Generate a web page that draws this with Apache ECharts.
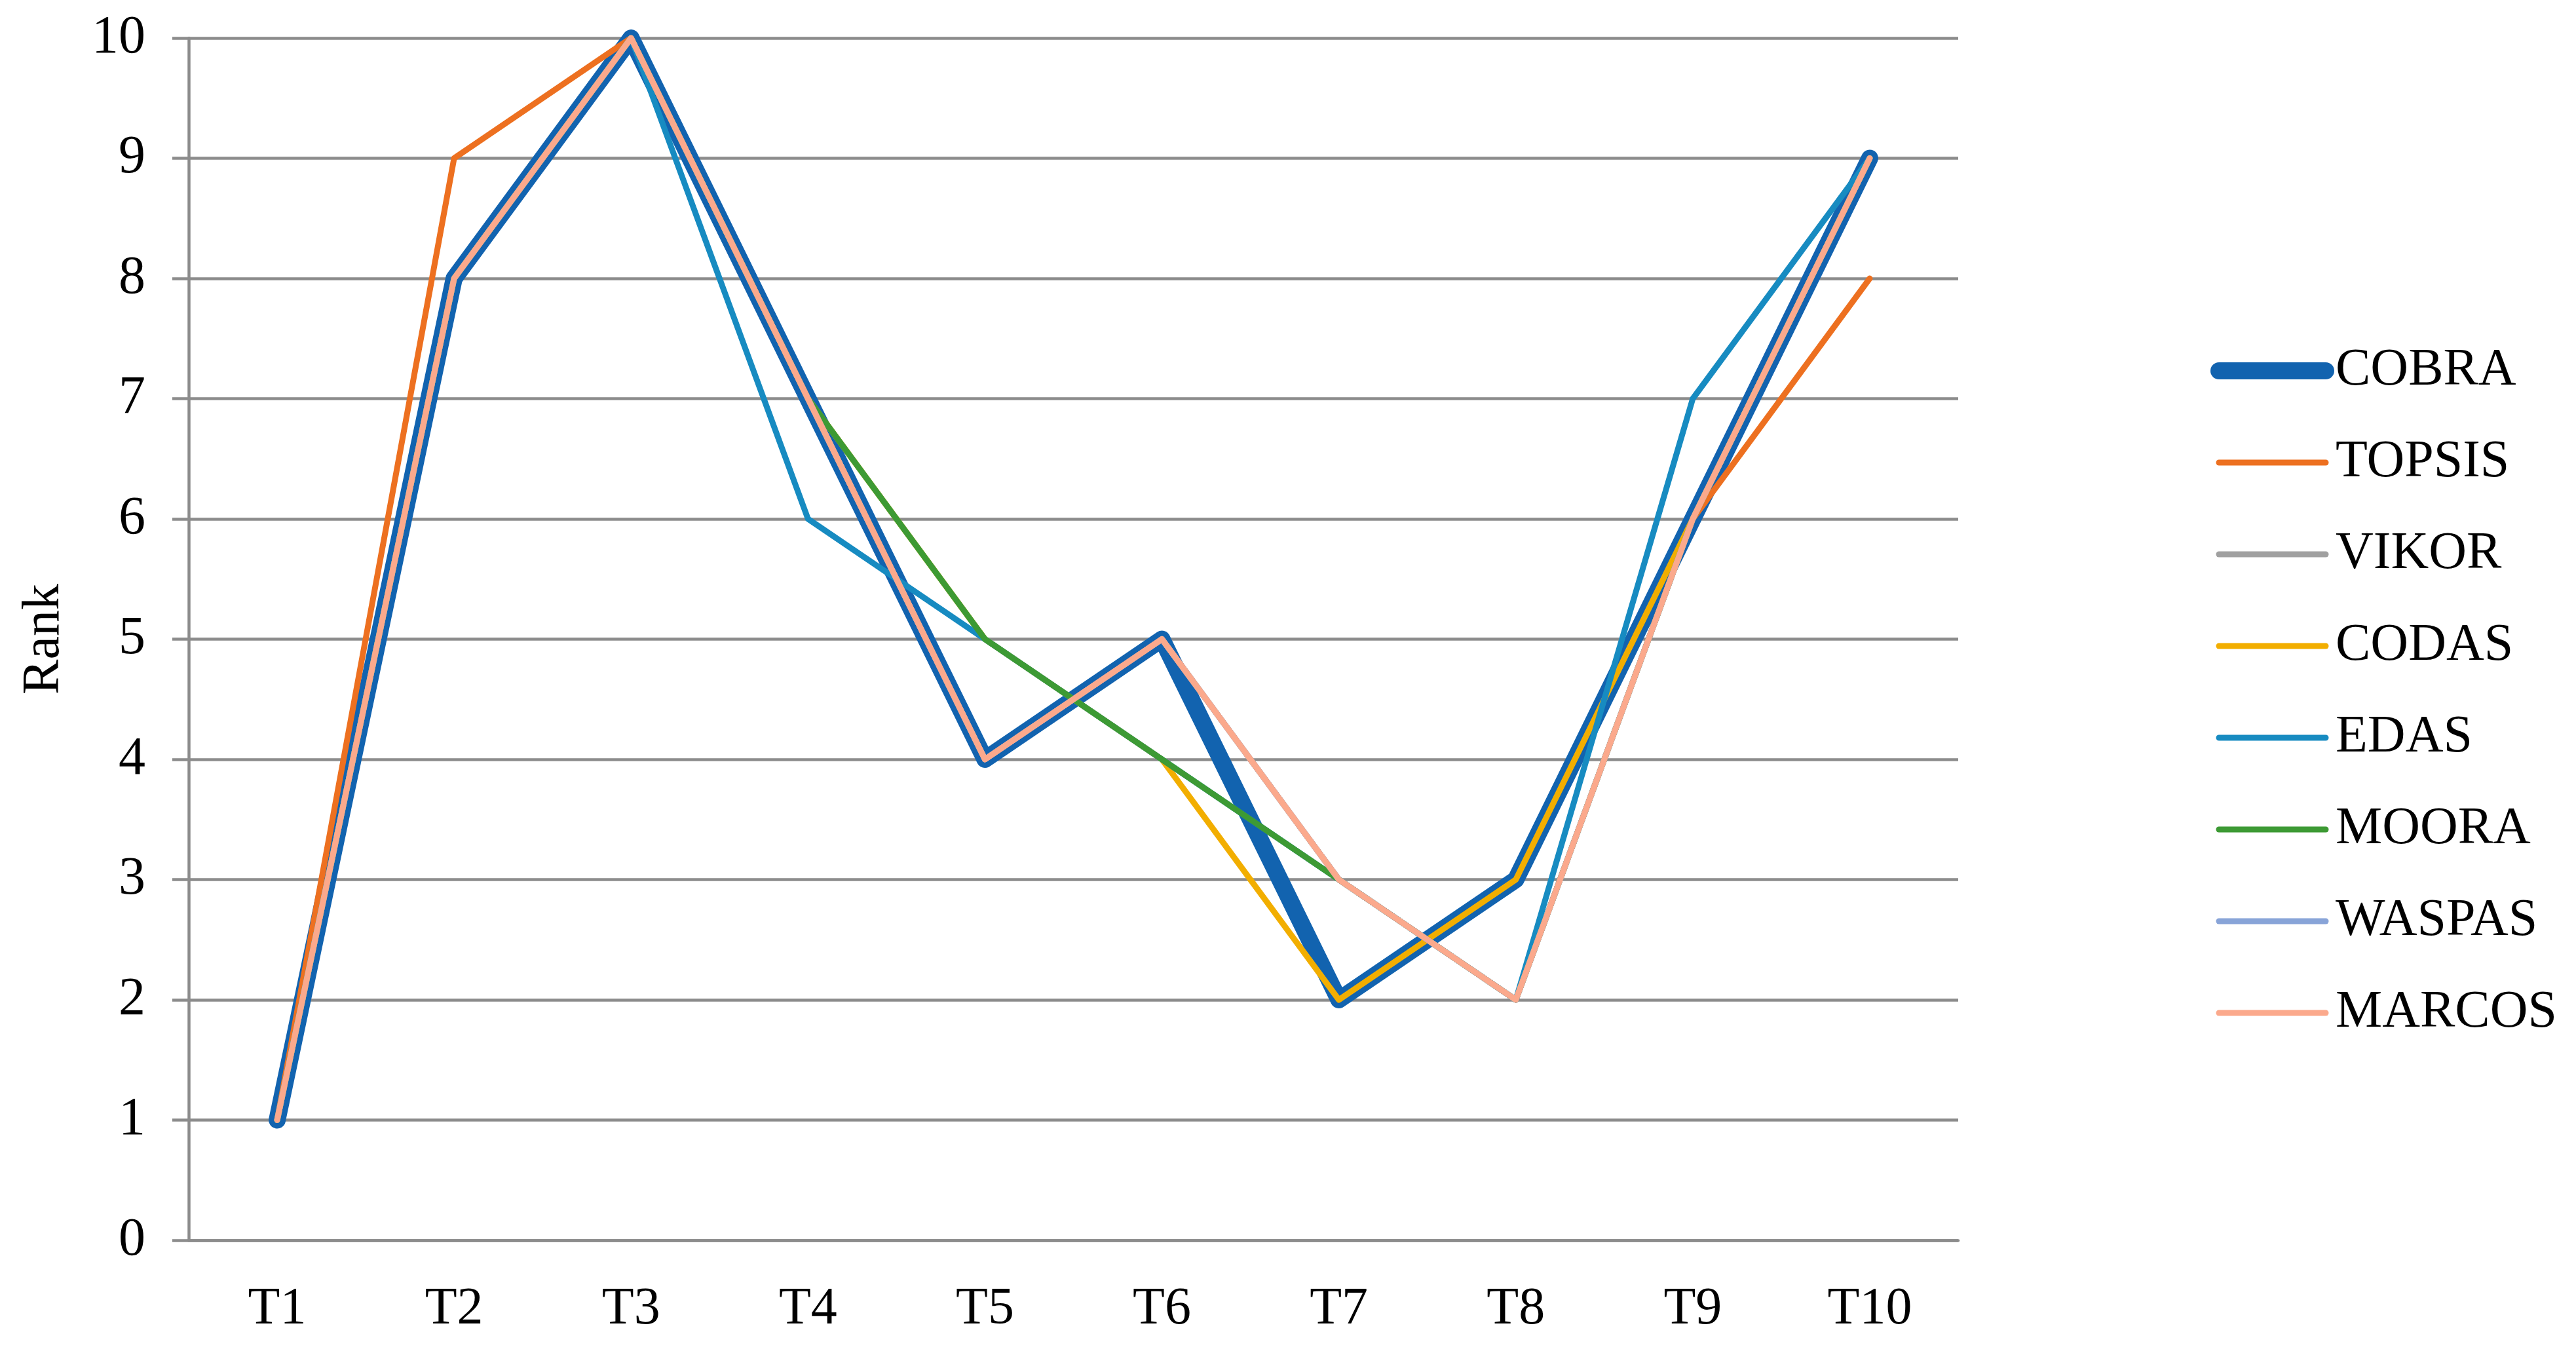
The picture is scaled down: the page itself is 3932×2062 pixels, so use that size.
<!DOCTYPE html>
<html>
<head>
<meta charset="utf-8">
<script src="https://cdn.jsdelivr.net/npm/echarts@6/dist/echarts.min.js"></script>
<style>html,body{margin:0;padding:0;background:#fff;}#c{width:3932px;height:2062px;}</style>
</head>
<body>
<div id="c"></div>
<script>
const categories = ['T1','T2','T3','T4','T5','T6','T7','T8','T9','T10'];
const seriesNames = ['COBRA','TOPSIS','VIKOR','CODAS','EDAS','MOORA','WASPAS','MARCOS'];
const COBRA  = [1,8,10,7,4,5,2,3,6,9];
const TOPSIS = [1,9,10,7,4,5,3,2,6,8];
const VIKOR  = [1,8,10,7,4,5,3,2,6,9];
const CODAS  = [1,8,10,7,5,4,2,3,6,9];
const EDAS   = [1,8,10,6,5,4,3,2,7,9];
const MOORA  = [1,8,10,7,5,4,3,2,6,9];
const WASPAS = [1,8,10,7,4,5,3,2,6,9];
const MARCOS = [1,8,10,7,4,5,3,2,6,9];
const yTicks = [0,1,2,3,4,5,6,7,8,9,10];

const values = [COBRA, TOPSIS, VIKOR, CODAS, EDAS, MOORA, WASPAS, MARCOS];
const colors = ['#1263AF','#ED7020','#A0A0A0','#F2AE00','#178BC1','#3D9A34','#88A4D8','#FBA98C'];
const widths = [26,9,9,9,9,9,9,9];
const FONT = '"Liberation Serif","Times New Roman",serif';

const chart = echarts.init(document.getElementById('c'), null, {renderer:'canvas'});
chart.setOption({
  animation: false,
  backgroundColor: '#ffffff',
  grid: {left: 288, right: 943, top: 58, bottom: 169, containLabel: false},
  legend: {
    orient: 'vertical',
    left: 3374,
    top: 526,
    padding: 0,
    itemWidth: 163,
    itemHeight: 30,
    itemGap: 60,
    lineStyle: {width: 'inherit', cap: 'round'},
    itemStyle: {opacity: 0, borderWidth: 0},
    textStyle: {fontFamily: FONT, fontSize: 80, lineHeight: 80, color: '#000', padding: [0, 0, 0, 10]},
    data: seriesNames,
    selectedMode: false
  },
  xAxis: {
    type: 'category',
    data: categories,
    boundaryGap: true,
    axisLine: {show: true, lineStyle: {color: '#8C8C8C', width: 4.5}},
    axisTick: {show: false},
    axisLabel: {fontFamily: FONT, fontSize: 80, color: '#000', margin: 66},
    splitLine: {show: false}
  },
  yAxis: {
    type: 'value',
    min: yTicks[0],
    max: yTicks[yTicks.length-1],
    interval: 1,
    name: 'Rank',
    nameLocation: 'middle',
    nameRotate: 90,
    nameGap: 180,
    nameTextStyle: {fontFamily: FONT, fontSize: 80, color: '#000'},
    axisLine: {show: true, lineStyle: {color: '#8C8C8C', width: 4.5}},
    axisTick: {show: true, length: 25, lineStyle: {color: '#8C8C8C', width: 4.5}},
    axisLabel: {fontFamily: FONT, fontSize: 82, color: '#000', margin: 66},
    splitLine: {show: true, lineStyle: {color: '#8C8C8C', width: 4.5}}
  },
  series: seriesNames.map((n, i) => ({
    name: n,
    type: 'line',
    data: values[i],
    symbol: 'none',
    smooth: false,
    z: 2 + i,
    color: colors[i],
    lineStyle: {color: colors[i], width: widths[i], cap: 'round', join: 'round'},
    emphasis: {disabled: true}
  }))
});
</script>
</body>
</html>
